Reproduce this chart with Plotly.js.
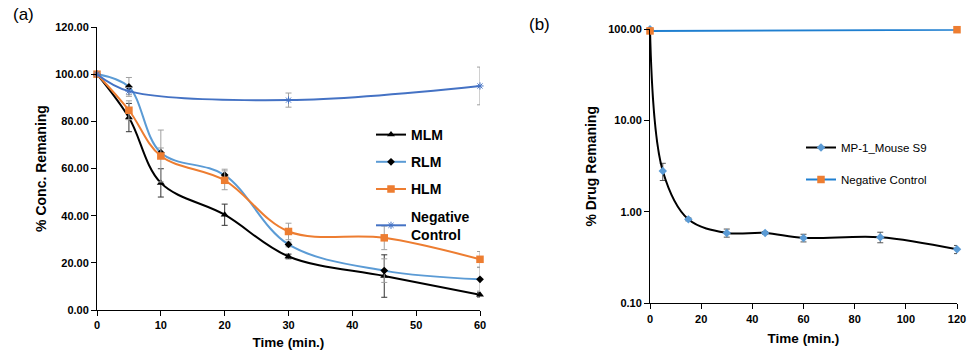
<!DOCTYPE html>
<html>
<head>
<meta charset="utf-8">
<script src="https://cdn.plot.ly/plotly-3.0.1.min.js"></script>
<style>html,body{margin:0;padding:0;background:#fff;}#chart{width:969px;height:350px;}</style>
</head>
<body>
<div id="chart"></div>
<script>
// ---- Panel (a) data ----
const timeA = [0, 5, 10, 20, 30, 45, 60];
const timeNegA = [0, 5, 30, 60];
const mlm = [100, 81.6, 53.9, 40.4, 22.7, 14.4, 6.5];
const mlmErr = [0, 6, 6, 4.5, 1, 9, 1];
const rlm = [100, 94.6, 66.7, 57.2, 27.8, 16.7, 13.0];
const rlmErr = [0, 4, 2, 2.5, 1, 5, 5];
const hlm = [100, 84.7, 65.3, 55.0, 33.3, 30.6, 21.5];
const hlmErr = [0, 4, 11, 4, 3.5, 5, 3.3];
const negA = [100, 92.8, 89.0, 95.0];
const negAErr = [0, 1.5, 3, 8];
const yTicksA = [0, 20, 40, 60, 80, 100, 120];

// ---- Panel (b) data ----
const timeB = [0, 5, 15, 30, 45, 60, 90, 120];
const mp1 = [100, 2.81, 0.83, 0.59, 0.59, 0.52, 0.53, 0.39];
const mp1Err = [0, 0.6, 0.03, 0.06, 0.02, 0.05, 0.07, 0.04];
const timeNegB = [0, 120];
const negB = [96, 99];
const yTicksB = [0.1, 1, 10, 100];

const FONT = "Liberation Sans, Arial, sans-serif";
const errGray = '#A0A0A0';

const traces = [
  {x: timeA, y: mlm, name: '<b>MLM</b>', type: 'scatter', mode: 'lines+markers',
   line: {color: '#000000', width: 2, shape: 'spline'},
   marker: {symbol: 'triangle-up', size: 7, color: '#000000'},
   error_y: {type: 'data', array: mlmErr, visible: true, color: '#333333', thickness: 1, width: 3},
   cliponaxis: false, legendgroup: 'a1', legend: 'legend', xaxis: 'x', yaxis: 'y'},
  {x: timeA, y: rlm, name: '<b>RLM</b>', type: 'scatter', mode: 'lines+markers',
   line: {color: '#5B9BD5', width: 2, shape: 'spline'},
   marker: {symbol: 'diamond', size: 6, color: '#000000'},
   error_y: {type: 'data', array: rlmErr, visible: true, color: errGray, thickness: 1, width: 3},
   cliponaxis: false, legendgroup: 'a2', legend: 'legend', xaxis: 'x', yaxis: 'y'},
  {x: timeA, y: hlm, name: '<b>HLM</b>', type: 'scatter', mode: 'lines+markers',
   line: {color: '#ED7D31', width: 2, shape: 'spline'},
   marker: {symbol: 'square', size: 7.5, color: '#ED7D31'},
   error_y: {type: 'data', array: hlmErr, visible: true, color: errGray, thickness: 1, width: 3},
   cliponaxis: false, legendgroup: 'a3', legend: 'legend', xaxis: 'x', yaxis: 'y'},
  {x: timeNegA, y: negA, name: '<b>Negative<br>Control</b>', type: 'scatter', mode: 'lines+markers',
   line: {color: '#4472C4', width: 2, shape: 'spline'},
   marker: {symbol: 'asterisk-open', size: 6, color: '#4472C4', line: {color: '#4472C4', width: 1}},
   error_y: {type: 'data', array: negAErr, visible: true, color: errGray, thickness: 1, width: 3},
   cliponaxis: false, legendgroup: 'a4', legend: 'legend', xaxis: 'x', yaxis: 'y'},
  {x: timeB, y: mp1, name: 'MP-1_Mouse S9', type: 'scatter', mode: 'lines+markers',
   line: {color: '#000000', width: 2, shape: 'spline'},
   marker: {symbol: 'diamond', size: 6.5, color: '#5B9BD5'},
   error_y: {type: 'data', array: mp1Err, visible: true, color: '#555555', thickness: 1, width: 3},
   cliponaxis: false, legendgroup: 'b1', legend: 'legend2', xaxis: 'x2', yaxis: 'y2'},
  {x: timeNegB, y: negB, name: 'Negative Control', type: 'scatter', mode: 'lines+markers',
   line: {color: '#1F7FD0', width: 2},
   marker: {symbol: 'square', size: 7.5, color: '#ED7D31'},
   cliponaxis: false, legendgroup: 'b2', legend: 'legend2', xaxis: 'x2', yaxis: 'y2'}
];

const axCommon = {
  showgrid: false, zeroline: false, showline: true, linecolor: '#000000', linewidth: 1,
  ticks: 'outside', ticklen: 5, tickcolor: '#000000',
  tickfont: {family: FONT, size: 11, color: '#000000', weight: 'bold'}
};

const layout = {
  width: 969, height: 350,
  margin: {l: 0, r: 0, t: 0, b: 0},
  paper_bgcolor: '#ffffff', plot_bgcolor: 'rgba(0,0,0,0)',
  font: {family: FONT, color: '#000000'},
  xaxis: Object.assign({}, axCommon, {
    domain: [97/969, 480/969], range: [0, 60], tickmode: 'linear', tick0: 0, dtick: 10,
    title: {text: '<b>Time (min.)</b>', font: {family: FONT, size: 13.5}, standoff: 9},
    anchor: 'y'
  }),
  yaxis: Object.assign({}, axCommon, {
    domain: [1 - 310/350, 1 - 27/350], range: [0, 120], tickvals: yTicksA, tickformat: '.2f',
    title: {text: '<b>% Conc. Remaning</b>', font: {family: FONT, size: 14}, standoff: 5},
    anchor: 'x'
  }),
  xaxis2: Object.assign({}, axCommon, {
    domain: [650/969, 957/969], range: [0, 120], tickmode: 'linear', tick0: 0, dtick: 20,
    title: {text: '<b>Time (min.)</b>', font: {family: FONT, size: 13.5}, standoff: 10},
    anchor: 'y2'
  }),
  yaxis2: Object.assign({}, axCommon, {
    domain: [1 - 303.3/350, 1 - 29.3/350], type: 'log', range: [-1, 2], tickvals: yTicksB, tickformat: '.2f',
    title: {text: '<b>% Drug Remaning</b>', font: {family: FONT, size: 14}, standoff: 8},
    anchor: 'x2'
  }),
  legend: {
    x: 371/969, y: 1 - 119/350, xanchor: 'left', yanchor: 'top',
    bgcolor: 'rgba(0,0,0,0)', traceorder: 'grouped', tracegroupgap: 6,
    font: {family: FONT, size: 14, color: '#000000'}
  },
  legend2: {
    x: 801/969, y: 1 - 133/350, xanchor: 'left', yanchor: 'top',
    bgcolor: 'rgba(0,0,0,0)', traceorder: 'grouped', tracegroupgap: 13,
    font: {family: FONT, size: 11.5, color: '#000000'}
  },
  showlegend: true,
  annotations: [
    {text: '(a)', x: 11/969, y: 1 - 15/350, xref: 'paper', yref: 'paper', xanchor: 'left', yanchor: 'middle',
     showarrow: false, font: {family: FONT, size: 17, color: '#000000'}},
    {text: '(b)', x: 527/969, y: 1 - 25/350, xref: 'paper', yref: 'paper', xanchor: 'left', yanchor: 'middle',
     showarrow: false, font: {family: FONT, size: 17, color: '#000000'}}
  ]
};

Plotly.newPlot('chart', traces, layout, {staticPlot: true, displayModeBar: false});
</script>
</body>
</html>
